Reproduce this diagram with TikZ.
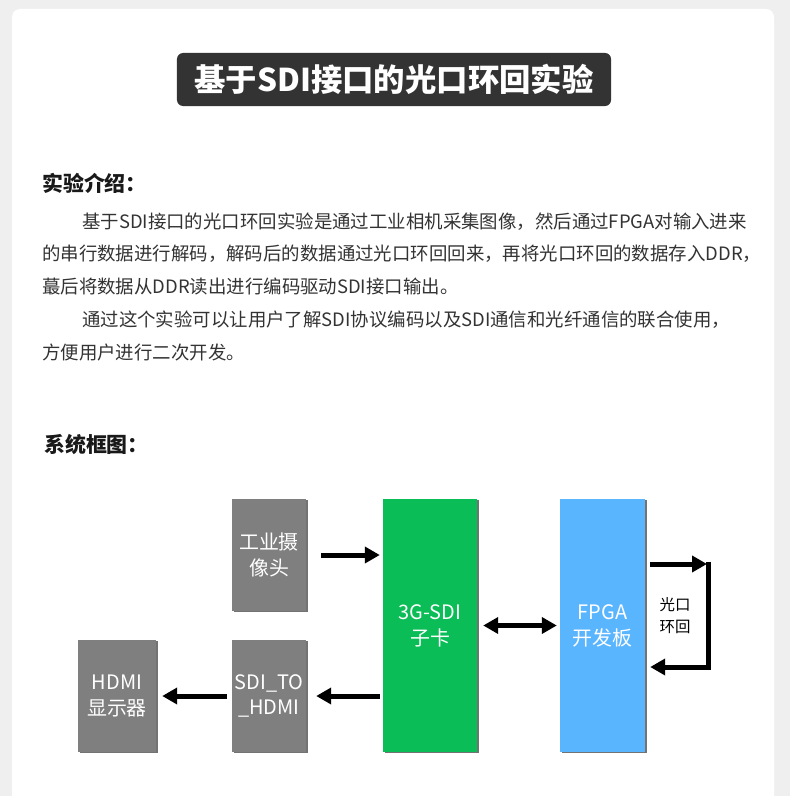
\documentclass[tikz,border=0pt]{standalone}
\usepackage{fontspec}
\setmainfont{Noto Sans CJK SC}
\usetikzlibrary{arrows.meta, positioning, shadows}
\definecolor{pagebg}{HTML}{EFEFEF}
\definecolor{titlebg}{HTML}{333333}
\definecolor{boxgray}{HTML}{7F7F7F}
\definecolor{cardgreen}{HTML}{0BBD56}
\definecolor{boardblue}{HTML}{5AB5FF}
\definecolor{bodytext}{HTML}{333333}

\begin{document}
\begin{tikzpicture}[x=1bp, y=-1bp,
    headline/.style={anchor=west, inner sep=0pt, text=black!90,
                     font=\fontsize{21}{25}\selectfont\bfseries},
    bodyline/.style={anchor=west, inner sep=0pt, text=bodytext,
                     font=\fontsize{18.5}{22}\selectfont},
    blk/.style={inner sep=2pt, align=center, text=white,
                font=\fontsize{20}{26}\selectfont,
                drop shadow={shadow xshift=1.5bp, shadow yshift=-1.2bp,
                             opacity=0.55, fill=black}},
    graybox/.style={blk, fill=boxgray, minimum height=112bp},
    flow/.style={line width=5bp, -{Triangle[length=15bp, width=16bp]}},
    bothflow/.style={line width=5bp,
                     {Triangle[length=15bp, width=16bp]}-{Triangle[length=15bp, width=16bp]}},
]
% page and card
\useasboundingbox (0,0) rectangle (790,796);
\fill[pagebg] (0,0) rectangle (790,796);
\fill[white, rounded corners=8bp] (12,9) rectangle (774,830);

% title
\node[fill=titlebg, rounded corners=6bp, minimum width=434bp, minimum height=53bp,
      text=white, font=\fontsize{31.5}{36}\selectfont\bfseries] (title) at (394,79.5)
     {基于SDI接口的光口环回实验};

% introduction
\node[headline] (introhead) at (42,183) {实验介绍：};
\node[bodyline] (introa) at (82,222)
     {基于SDI接口的光口环回实验是通过工业相机采集图像，然后通过FPGA对输入进来};
\node[bodyline] (introb) at (42,254)
     {的串行数据进行解码，解码后的数据通过光口环回回来，再将光口环回的数据存入DDR，};
\node[bodyline] (introc) at (42,286)
     {蕞后将数据从DDR读出进行编码驱动SDI接口输出。};
\node[bodyline] (introd) at (82,320)
     {通过这个实验可以让用户了解SDI协议编码以及SDI通信和光纤通信的联合使用，};
\node[bodyline] (introe) at (42,352) {方便用户进行二次开发。};

% block diagram
\node[headline] (sysHead) at (44,445) {系统框图：};

\node[graybox, minimum width=74bp] (cam)   at (269,555) {工业摄\\像头};
\node[graybox, minimum width=74bp] (sdito) at (269,696) {SDI\_TO\\\_HDMI};
\node[graybox, minimum width=78bp] (hdmi)  at (117,696) {HDMI\\显示器};
\node[blk, fill=cardgreen, minimum width=94bp, minimum height=253bp] (sdi)
     at (430,625.5) {3G-SDI\\子卡};
\node[blk, fill=boardblue, minimum width=85bp, minimum height=253bp] (fpga)
     at (602.5,625.5) {FPGA\\开发板};

\coordinate (loopTop) at (708,564);
\coordinate (loopBot) at (708,667);
\node[align=center, inner sep=0pt, font=\fontsize{15.5}{22}\selectfont] (loopLabel)
     at (675,616) {光口\\环回};

\draw[flow, shorten <=15bp, shorten >=3bp] (cam.east) -- (cam.east -| sdi.west);
\draw[flow, shorten <=3bp, shorten >=10bp] (sdito.east -| sdi.west) -- (sdito.east);
\draw[flow, shorten <=5bp, shorten >=6bp] (sdito.west) -- (hdmi.east);
\draw[bothflow, shorten <=6bp, shorten >=3bp] (sdi.east) -- (fpga.west);
\draw[flow, shorten <=5bp, shorten >=1bp] (fpga.east |- loopTop) -- (loopTop);
\draw[flow, shorten >=5bp] (loopTop) ++(0,-2.5) -- (loopBot) -- (fpga.east |- loopBot);
\end{tikzpicture}
\end{document}
